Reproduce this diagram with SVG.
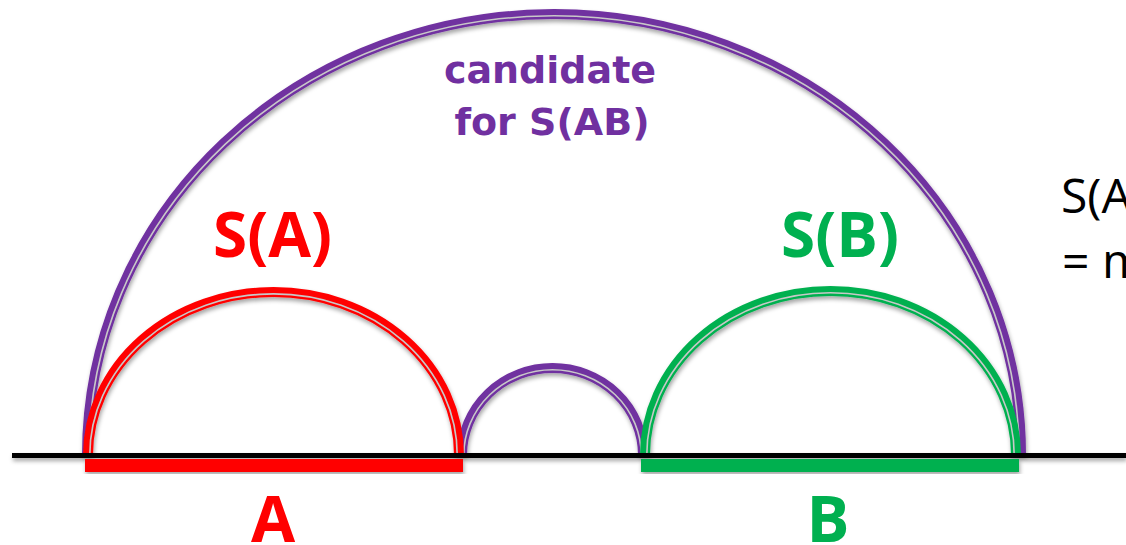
<svg xmlns="http://www.w3.org/2000/svg" width="1126" height="545" viewBox="0 0 1126 545">
  <defs>
    <filter id="shadow" x="-5%" y="-5%" width="110%" height="115%">
      <feDropShadow dx="1" dy="3" stdDeviation="2" flood-color="#000" flood-opacity="0.35"/>
    </filter>
  </defs>
  <style>
    .arc { fill: none; stroke-width: 10; }
    .gap { fill: none; stroke: #c8c8c8; stroke-width: 1.6; }
    .purple { stroke: #7030A0; }
    .red { stroke: #FF0000; }
    .green { stroke: #00B050; }
    .lbl { font-family: "Open Sans", "DejaVu Sans", sans-serif; font-weight: bold; text-anchor: middle; }
    .cand { font-family: "DejaVu Sans", "Open Sans", sans-serif; font-weight: bold; font-size: 38px; fill: #7030A0; text-anchor: middle; }
    .note { font-family: "Open Sans", "DejaVu Sans", sans-serif; font-size: 48px; fill: #000; }
  </style>

  <g id="connectors" filter="url(#shadow)">
    <!-- candidate arc over A and B -->
    <g id="arc-ab">
      <path class="arc purple" d="M 87 455 A 467 441 0 0 1 1021 455"/>
      <path class="gap" d="M 88.8 455 A 465.2 439.2 0 0 1 1019.2 455"/>
    </g>
    <!-- arc bridging the gap between A and B -->
    <g id="arc-gap">
      <path class="arc purple" d="M 462 455 A 90.5 87 0 0 1 643 455"/>
      <path class="gap" d="M 463.8 455 A 88.7 85.2 0 0 1 641.2 455"/>
    </g>
    <!-- S(A) -->
    <g id="arc-a">
      <path class="arc red" d="M 88 455 A 185.5 163 0 0 1 459 455"/>
      <path class="gap" d="M 89.8 455 A 183.7 161.2 0 0 1 457.2 455"/>
    </g>
    <!-- S(B) -->
    <g id="arc-b">
      <path class="arc green" d="M 645 455 A 185.5 164 0 0 1 1016 455"/>
      <path class="gap" d="M 646.8 455 A 183.7 162.2 0 0 1 1014.2 455"/>
    </g>
  </g>

  <g id="baseline" filter="url(#shadow)">
    <rect x="85" y="459" width="378" height="13" fill="#FF0000"/>
    <rect x="641" y="459" width="378" height="13" fill="#00B050"/>
    <rect x="12" y="453" width="1114" height="5" fill="#000"/>
  </g>

  <g id="region-a">
    <text class="lbl" x="273" y="542" font-size="64" fill="#FF0000">A</text>
  </g>
  <g id="region-b">
    <text class="lbl" x="828" y="542" font-size="64" fill="#00B050">B</text>
  </g>
  <g id="label-sa">
    <text class="lbl" x="272.5" y="257" font-size="62" fill="#FF0000">S(A)</text>
  </g>
  <g id="label-sb">
    <text class="lbl" x="840" y="257" font-size="62" fill="#00B050">S(B)</text>
  </g>
  <g id="label-sab">
    <text class="cand" x="550" y="83">candidate</text>
    <text class="cand" x="552" y="135">for S(AB)</text>
  </g>
  <g id="note">
    <text class="note" x="1061" y="213">S(A</text>
    <text class="note" x="1062" y="278">= m</text>
  </g>
</svg>
